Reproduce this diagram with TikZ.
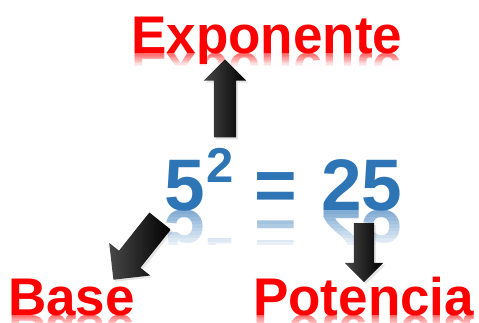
\documentclass[tikz,border=0pt]{standalone}
\usepackage{fontspec}
\setmainfont{Liberation Sans}
\usetikzlibrary{positioning,shapes.arrows,shadows}

\definecolor{wordred}{RGB}{255,0,0}
\definecolor{numblue}{RGB}{46,117,182}

\begin{document}
\begin{tikzpicture}[x=1pt,y=-1pt,
  word/.style={anchor=base west,inner sep=0pt,text=wordred,font=\fontsize{53}{60}\selectfont\bfseries},
  bignum/.style={anchor=base west,inner sep=0pt,text=numblue,font=\fontsize{73}{80}\selectfont\bfseries},
  supnum/.style={bignum,font=\fontsize{49}{55}\selectfont\bfseries},
  mirror/.style={yscale=-1,opacity=0.6},
  blockarrow/.style={single arrow,draw=none,inner xsep=0pt,minimum height=#1,
    left color=black!72,middle color=black,right color=black,
    drop shadow={opacity=0.2,shadow xshift=2pt,shadow yshift=-2pt}},
]
\useasboundingbox (0,0) rectangle (479,322);

% ==== REFLECTIONS (drawn first, then faded by white bands) ====
\node[word,mirror] (expoR) at (131,53) {Exponente};
\node[word,mirror] (baseR) at (8,315) {Base};
\node[word,mirror] (potR) at (253,315) {Potencia};
\node[bignum,mirror] (fiveR) at (164,210) {5};
\node[supnum,mirror] (twoR) at (206,238) {2};
\node[bignum,mirror] (eqR) at (254,210) {=};
\node[bignum,mirror] (tfR) at (321,210) {25};

\foreach \k in {0,...,9} {
  \fill[white,opacity=\k/10] (125,53+1.3*\k) rectangle (410,54.3+1.3*\k);
  \fill[white,opacity=\k/11] (150,210+3.5*\k) rectangle (410,213.5+3.5*\k);
  \fill[white,opacity=\k/10] (0,315+1.1*\k) rectangle (479,316.1+1.1*\k);
}
\fill[white] (125,66) rectangle (410,95);
\fill[white] (150,245) rectangle (410,275);

% ==== WORDS ====
\node[word] (expo) at (131,53) {Exponente};
\node[word] (base) at (8,315) {Base};
\node[word] (pot) at (253,315) {Potencia};

% ==== 5^2 = 25 ====
\node[bignum] (five) at (164,210) {5};
\node[supnum] (two) at (206,182) {2};
\node[bignum] (eq) at (254,210) {=};
\node[bignum] (tf) at (321,210) {25};

% ==== BLOCK ARROWS ====
\node[blockarrow=78pt,inner ysep=11pt,single arrow head extend=10pt,rotate=90] (up) at (225,104) {};
\node[blockarrow=75pt,inner ysep=13.5pt,single arrow head extend=12.5pt,rotate=231.5] (dl) at (141,245) {};
\node[blockarrow=59pt,inner ysep=10pt,single arrow head extend=9pt,rotate=-90] (dn) at (364,247.5) {};

\end{tikzpicture}
\end{document}
